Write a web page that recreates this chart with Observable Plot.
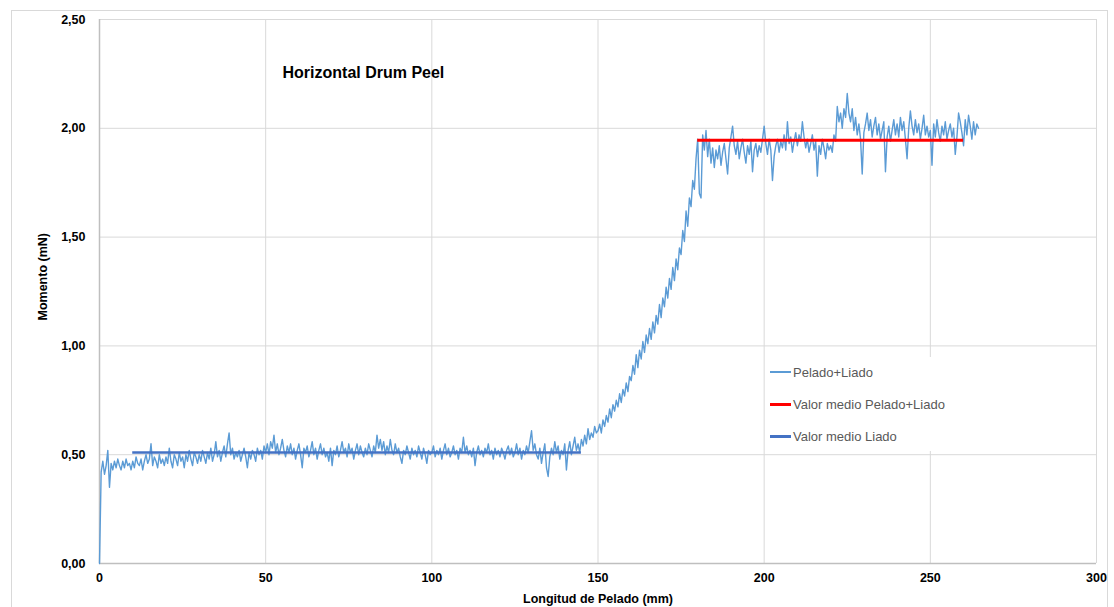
<!DOCTYPE html>
<html lang="es">
<head>
<meta charset="utf-8">
<script src="https://cdn.jsdelivr.net/npm/d3@7"></script>
<script src="https://cdn.jsdelivr.net/npm/@observablehq/plot@0.6"></script>
<style>
  html, body { margin: 0; padding: 0; background: #fff; }
  #wrap { position: relative; width: 1114px; height: 607px; overflow: hidden; font-family: "Liberation Sans", Arial, sans-serif; }
  #frame { position: absolute; left: 11px; top: 10px; width: 1097px; height: 640px; border: 1px solid #d9d9d9; box-sizing: border-box; }
  #chart { position: absolute; left: 0; top: 0; }
  #legend { position: absolute; left: 765px; top: 357px; width: 190px; height: 94px; background: #fff; }
  .item { position: absolute; left: 5px; height: 16px; display: flex; align-items: center; font-size: 13px; color: #595959; white-space: nowrap; }
  .swatch { width: 21px; margin-right: 2px; }
</style>
</head>
<body>
<div id="wrap">
  <div id="frame"></div>
  <div id="chart"></div>
  <div id="legend"></div>
</div>
<script>
// Peel moment (mN) sampled every 0.5 mm of peel length, starting at 0 mm.
const sampleStepMm = 0.5;
const momento = [
  0.00, 0.42, 0.47, 0.41, 0.45, 0.52, 0.35, 0.46, 0.43, 0.47, 0.44, 0.48, 0.45, 0.43, 0.47, 0.44, 0.48, 0.45, 0.46, 0.43,
  0.47, 0.44, 0.49, 0.46, 0.45, 0.48, 0.43, 0.47, 0.50, 0.46, 0.48, 0.55, 0.45, 0.49, 0.47, 0.44, 0.50, 0.46, 0.48, 0.45,
  0.49, 0.46, 0.53, 0.47, 0.44, 0.50, 0.48, 0.45, 0.51, 0.47, 0.49, 0.44, 0.50, 0.47, 0.52, 0.48, 0.45, 0.51, 0.49, 0.46,
  0.50, 0.47, 0.52, 0.49, 0.46, 0.51, 0.48, 0.53, 0.47, 0.50, 0.56, 0.49, 0.52, 0.47, 0.51, 0.54, 0.49, 0.55, 0.60, 0.50,
  0.53, 0.48, 0.51, 0.49, 0.52, 0.47, 0.50, 0.53, 0.49, 0.44, 0.51, 0.48, 0.52, 0.50, 0.47, 0.53, 0.50, 0.52, 0.48, 0.54,
  0.51, 0.55, 0.50, 0.56, 0.53, 0.59, 0.51, 0.55, 0.50, 0.53, 0.57, 0.52, 0.49, 0.54, 0.51, 0.55, 0.50, 0.53, 0.48, 0.52,
  0.55, 0.50, 0.44, 0.53, 0.51, 0.54, 0.49, 0.52, 0.56, 0.50, 0.53, 0.48, 0.52, 0.55, 0.50, 0.53, 0.49, 0.51, 0.47, 0.53,
  0.45, 0.52, 0.50, 0.54, 0.49, 0.52, 0.56, 0.51, 0.53, 0.49, 0.55, 0.51, 0.53, 0.48, 0.52, 0.55, 0.50, 0.54, 0.51, 0.49,
  0.53, 0.50, 0.55, 0.52, 0.49, 0.54, 0.51, 0.59, 0.53, 0.57, 0.52, 0.56, 0.50, 0.54, 0.51, 0.57, 0.52, 0.50, 0.55, 0.51,
  0.53, 0.49, 0.46, 0.52, 0.50, 0.54, 0.51, 0.48, 0.53, 0.50, 0.52, 0.49, 0.54, 0.51, 0.48, 0.53, 0.50, 0.46, 0.52, 0.50,
  0.51, 0.54, 0.49, 0.52, 0.50, 0.53, 0.48, 0.52, 0.55, 0.50, 0.53, 0.49, 0.51, 0.54, 0.50, 0.52, 0.48, 0.53, 0.51, 0.58,
  0.51, 0.54, 0.50, 0.52, 0.49, 0.53, 0.45, 0.51, 0.54, 0.50, 0.52, 0.49, 0.53, 0.51, 0.55, 0.50, 0.52, 0.48, 0.53, 0.50,
  0.52, 0.49, 0.53, 0.51, 0.48, 0.52, 0.54, 0.50, 0.53, 0.49, 0.51, 0.55, 0.50, 0.53, 0.48, 0.52, 0.50, 0.54, 0.51, 0.56,
  0.61, 0.52, 0.55, 0.50, 0.48, 0.53, 0.46, 0.51, 0.55, 0.44, 0.40, 0.49, 0.53, 0.50, 0.56, 0.51, 0.54, 0.48, 0.52, 0.50,
  0.55, 0.43, 0.52, 0.56, 0.50, 0.54, 0.58, 0.52, 0.55, 0.51, 0.57, 0.54, 0.59, 0.55, 0.62, 0.57, 0.60, 0.58, 0.63, 0.60,
  0.61, 0.64, 0.60, 0.66, 0.63, 0.68, 0.65, 0.71, 0.67, 0.73, 0.70, 0.75, 0.72, 0.78, 0.74, 0.80, 0.77, 0.83, 0.79, 0.86,
  0.84, 0.91, 0.87, 0.96, 0.90, 0.98, 0.94, 1.02, 0.97, 1.05, 1.01, 1.08, 1.03, 1.11, 1.06, 1.14, 1.10, 1.19, 1.13, 1.22,
  1.18, 1.27, 1.22, 1.31, 1.26, 1.36, 1.30, 1.40, 1.35, 1.45, 1.42, 1.53, 1.48, 1.62, 1.55, 1.68, 1.64, 1.76, 1.72, 1.86,
  1.95, 1.70, 1.68, 1.97, 1.90, 1.99, 1.87, 1.95, 1.84, 1.91, 1.82, 1.90, 1.86, 1.92, 1.83, 1.89, 1.93, 1.86, 1.79, 1.91,
  1.96, 2.01, 1.92, 1.88, 1.94, 1.86, 1.91, 1.95, 1.89, 1.84, 1.92, 1.88, 1.94, 1.80, 1.90, 1.93, 1.87, 1.92, 1.89, 1.95,
  2.01, 1.93, 1.88, 1.95, 1.90, 1.76, 1.87, 1.92, 1.95, 1.89, 1.94, 1.91, 1.97, 1.90, 2.03, 1.93, 1.96, 1.89, 1.94, 1.98,
  1.92, 1.97, 1.94, 2.03, 1.96, 1.91, 1.95, 1.89, 1.93, 1.97, 1.90, 1.94, 1.78, 1.92, 1.88, 1.95, 1.91, 1.86, 1.93, 1.90,
  1.92, 1.89, 1.97, 1.94, 2.10, 2.03, 2.07, 2.00, 2.09, 2.05, 2.16, 2.07, 2.03, 2.09, 1.99, 2.05, 1.97, 2.02, 1.95, 1.79,
  1.98, 2.02, 2.07, 1.99, 2.04, 1.96, 2.01, 2.05, 1.97, 2.02, 1.95, 1.99, 2.03, 1.80, 1.96, 2.01, 1.94, 1.99, 2.04, 1.97,
  2.02, 1.96, 2.05, 1.99, 2.03, 1.95, 1.86, 2.00, 2.08, 2.01, 1.97, 2.04, 1.98, 2.02, 1.95, 2.00, 2.06, 1.97, 2.01, 1.96,
  1.99, 1.83, 2.02, 1.96, 2.04, 1.98, 1.94, 2.01, 1.97, 2.03, 1.95, 1.99, 2.02, 1.96, 2.00, 1.88, 1.96, 2.07, 2.03, 1.98,
  1.92, 2.04, 1.97, 2.06, 2.01, 1.95, 2.03, 1.97, 2.02, 2.00
];

// Mean values and the peel-length span each one covers (mm).
const liadoMean = 0.51;
const liadoSpan = [10, 145];
const peladoLiadoMean = 1.945;
const peladoLiadoSpan = [180, 260];

// Axis ticks and text.
const xTicks = [0, 50, 100, 150, 200, 250, 300];
const yTicks = [0, 0.5, 1, 1.5, 2, 2.5];
const chartTitle = "Horizontal Drum Peel";
const xTitle = "Longitud de Pelado (mm)";
const yTitle = "Momento (mN)";
const seriesNames = ["Pelado+Liado", "Valor medio Pelado+Liado", "Valor medio Liado"];
const seriesColors = ["#5b9bd5", "#ff0000", "#4472c4"];

const curve = momento.map((m, i) => ({longitud: i * sampleStepMm, momento: m}));
const comma = d => d.toFixed(2).replace(".", ",");
const font = "Liberation Sans, Arial, sans-serif";

const chart = Plot.plot({
  width: 1114,
  height: 607,
  marginLeft: 99,
  marginRight: 18,
  marginTop: 19,
  marginBottom: 44,
  style: {fontFamily: font, background: "transparent", color: "#000"},
  x: {domain: [0, 300], label: null},
  y: {domain: [0, 2.5], label: null},
  marks: [
    Plot.gridX(xTicks, {stroke: "#d9d9d9", strokeOpacity: 1}),
    Plot.gridY(yTicks, {stroke: "#d9d9d9", strokeOpacity: 1}),
    Plot.axisX(xTicks, {tickSize: 0, tickPadding: 10, fontSize: 12.5, fontWeight: "bold", fill: "#000", label: null}),
    Plot.axisY(yTicks, {tickSize: 0, tickPadding: 14, fontSize: 12.5, fontWeight: "bold", fill: "#000", tickFormat: comma, label: null}),
    Plot.ruleX([0], {stroke: "#bfbfbf", strokeWidth: 1.5}),
    Plot.ruleY([0], {stroke: "#bfbfbf", strokeWidth: 1.5}),
    Plot.line(curve, {x: "longitud", y: "momento", stroke: seriesColors[0], strokeWidth: 1.4, strokeLinejoin: "round"}),
    Plot.ruleY([liadoMean], {x1: liadoSpan[0], x2: liadoSpan[1], stroke: seriesColors[2], strokeWidth: 2.5}),
    Plot.ruleY([peladoLiadoMean], {x1: peladoLiadoSpan[0], x2: peladoLiadoSpan[1], stroke: seriesColors[1], strokeWidth: 3}),
    Plot.text([chartTitle], {frameAnchor: "top-left", textAnchor: "start", lineAnchor: "top", dx: 183, dy: 47, fontSize: 16, fontWeight: "bold", fill: "#000"}),
    Plot.text([yTitle], {frameAnchor: "left", rotate: -90, dx: -57, dy: 29, fontSize: 12.5, fontWeight: "bold", fill: "#000"}),
    Plot.text([xTitle], {frameAnchor: "bottom", dy: 39, fontSize: 12.5, fontWeight: "bold", fill: "#000"})
  ]
});
document.getElementById("chart").append(chart);

// Legend box drawn over the plot area.
const legend = d3.select("#legend");
const rowTops = [7, 39, 71];
seriesNames.forEach((name, i) => {
  const row = legend.append("div").attr("class", "item").style("top", rowTops[i] + "px");
  row.append("div").attr("class", "swatch")
    .style("height", (i === 0 ? 1.5 : 3) + "px")
    .style("background", seriesColors[i]);
  row.append("span").text(name);
});
</script>
</body>
</html>
